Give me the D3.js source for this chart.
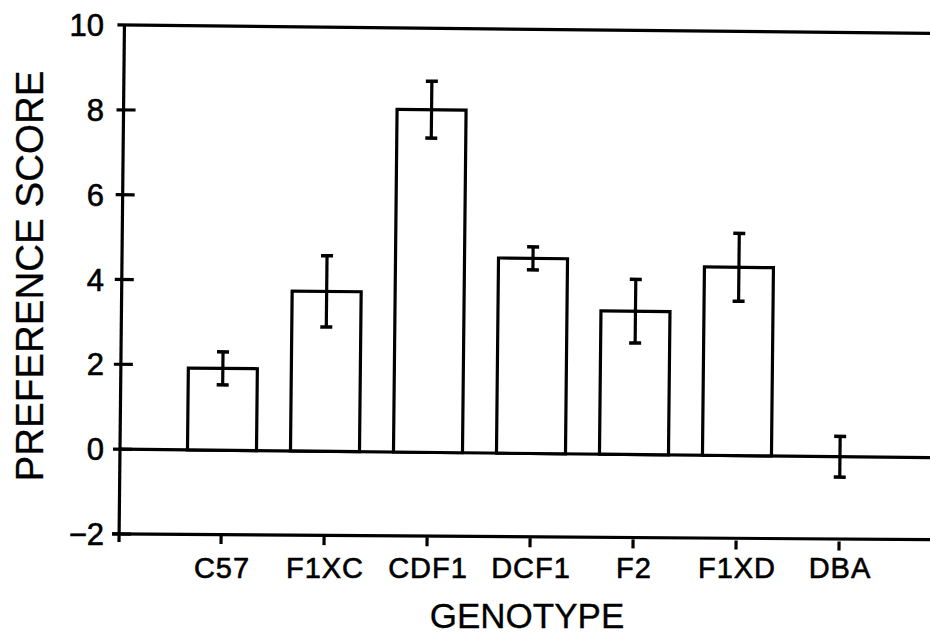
<!DOCTYPE html>
<html>
<head>
<meta charset="utf-8">
<script src="https://cdn.jsdelivr.net/npm/d3@7"></script>
<style>
  body { margin: 0; background: #fff; }
  text { font-family: "Liberation Sans", Arial, sans-serif; fill: #000; stroke: #000; stroke-width: 0.6px; }
</style>
</head>
<body>
<div id="plot"></div>
<script>
var genotypes = ["C57", "F1XC", "CDF1", "DCF1", "F2", "F1XD", "DBA"];
var means = [1.93, 3.77, 8.08, 4.6, 3.38, 4.44, 0];
var errors = [0.39, 0.84, 0.67, 0.27, 0.75, 0.8, 0.48];
var yTicks = [-2, 0, 2, 4, 6, 8, 10];

var data = genotypes.map(function(g, i){
    return {name: g, mean: means[i], err: errors[i]};
});

var svg = d3.select("#plot")
            .append("svg")
            .attr("width", 930)
            .attr("height", 636);

var axisX = 120;

var yScale = d3.scaleLinear()
            .domain([-2, 10])
            .range([534, 25]);

var xScale = d3.scaleBand()
            .domain(genotypes)
            .range([170.5, 891.5])
            .paddingInner(0.33)
            .paddingOuter(0.165);

// the scanned frame is tilted a little
var g = svg.append("g")
        .attr("transform", "rotate(0.6," + axisX + "," + yScale(0) + ")")
        .style("stroke", "#000")
        .style("stroke-width", 3.2)
        .style("fill", "none");

// frame lines
g.append("line")
    .attr("x1", 113).attr("x2", 945)
    .attr("y1", yScale(10)).attr("y2", yScale(10));
g.append("line")
    .attr("x1", axisX).attr("x2", 945)
    .attr("y1", yScale(0)).attr("y2", yScale(0));
g.append("line")
    .attr("x1", 113).attr("x2", 945)
    .attr("y1", yScale(-2)).attr("y2", yScale(-2))
    .attr("transform", "rotate(-0.2," + axisX + "," + yScale(-2) + ")");
g.append("line")
    .attr("x1", axisX).attr("x2", axisX)
    .attr("y1", yScale(10)).attr("y2", yScale(-2) + 8);

// y ticks crossing the axis
g.selectAll(".ytick")
    .data(yTicks.filter(function(d){ return d < 10; }))
    .enter().append("line")
    .attr("class", "ytick")
    .attr("x1", 113).attr("x2", 132)
    .attr("y1", function(d){ return yScale(d); })
    .attr("y2", function(d){ return yScale(d); });

// x ticks below the bottom line
g.selectAll(".xtick")
    .data(genotypes)
    .enter().append("line")
    .attr("class", "xtick")
    .attr("x1", function(d){ return xScale(d) + xScale.bandwidth() / 2; })
    .attr("x2", function(d){ return xScale(d) + xScale.bandwidth() / 2; })
    .attr("y1", yScale(-2))
    .attr("y2", yScale(-2) + 9);

// bars
g.selectAll(".bar")
    .data(data.filter(function(d){ return Math.abs(d.mean) > 0.05; }))
    .enter().append("rect")
    .attr("class", "bar")
    .attr("x", function(d){ return xScale(d.name); })
    .attr("y", function(d){ return yScale(Math.max(0, d.mean)); })
    .attr("width", xScale.bandwidth())
    .attr("height", function(d){ return Math.abs(yScale(d.mean) - yScale(0)); })
    .style("fill", "#fff");

// error bars
var eb = g.selectAll(".err")
    .data(data)
    .enter().append("g")
    .attr("class", "err")
    .attr("transform", function(d){
        return "translate(" + (xScale(d.name) + xScale.bandwidth() / 2) + ",0)";
    });
eb.append("line")
    .attr("x1", 0).attr("x2", 0)
    .attr("y1", function(d){ return yScale(d.mean + d.err); })
    .attr("y2", function(d){ return yScale(d.mean - d.err); });
eb.append("line")
    .attr("x1", -6).attr("x2", 6)
    .style("stroke-width", 3.5)
    .attr("y1", function(d){ return yScale(d.mean + d.err); })
    .attr("y2", function(d){ return yScale(d.mean + d.err); });
eb.append("line")
    .attr("x1", -6).attr("x2", 6)
    .style("stroke-width", 3.5)
    .attr("y1", function(d){ return yScale(d.mean - d.err); })
    .attr("y2", function(d){ return yScale(d.mean - d.err); });

// y tick labels
svg.selectAll(".ylabel")
    .data(yTicks)
    .enter().append("text")
    .attr("class", "ylabel")
    .attr("x", 104)
    .attr("y", function(d){ return yScale(d); })
    .attr("dy", "0.36em")
    .attr("text-anchor", "end")
    .style("font-size", "31px")
    .text(function(d){ return d < 0 ? "\u2212" + Math.abs(d) : d; });

// x tick labels
svg.selectAll(".xlabel")
    .data(genotypes)
    .enter().append("text")
    .attr("class", "xlabel")
    .attr("x", function(d){ return xScale(d) + xScale.bandwidth() / 2; })
    .attr("y", 578)
    .attr("text-anchor", "middle")
    .style("font-size", "29px")
    .style("letter-spacing", "1px")
    .text(function(d){ return d; });

// axis titles
svg.append("text")
    .attr("x", 527)
    .attr("y", 628)
    .attr("text-anchor", "middle")
    .style("font-size", "35px")
    .style("stroke-width", "0.3px")
    .text("GENOTYPE");

svg.append("text")
    .attr("transform", "translate(43,276) rotate(-90)")
    .attr("text-anchor", "middle")
    .style("font-size", "38.5px")
    .style("stroke-width", "0.3px")
    .text("PREFERENCE SCORE");
</script>
</body>
</html>
